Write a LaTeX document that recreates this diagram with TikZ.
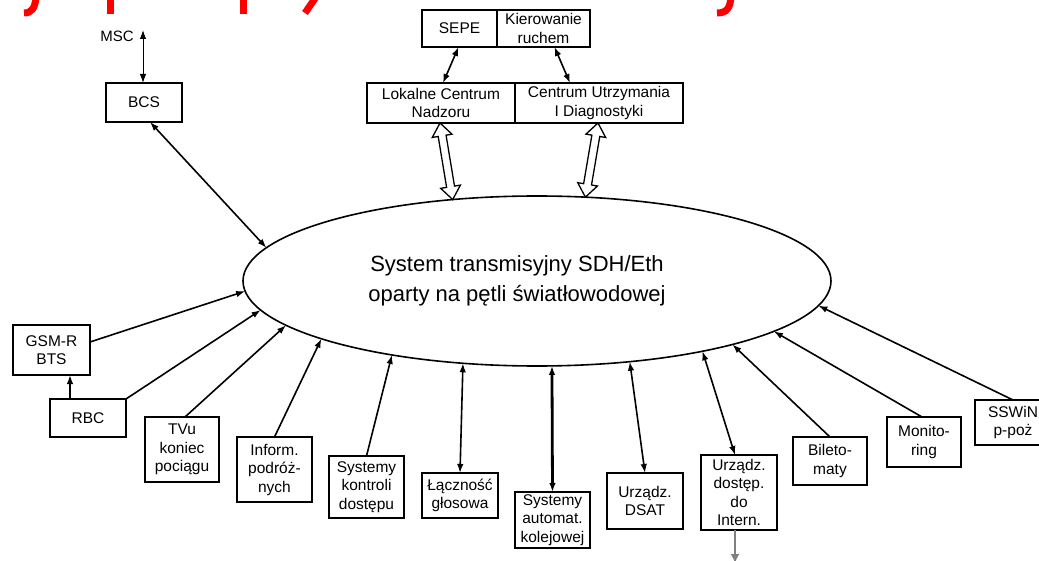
\documentclass[tikz,border=0pt]{standalone}
\usepackage{fontspec}
\setmainfont{Liberation Sans}
\usetikzlibrary{arrows.meta,calc,shapes.geometric}
\newcommand{\hollowdarrow}[2]{%
  \draw[line width=1.3pt, fill=white] let \p1=($(#2)-(#1)$), \n1={atan2(\y1,\x1)}, \n2={veclen(\x1,\y1)} in
    {[shift={(#1)}, rotate=\n1] (0,0) -- (13,10) -- (13,4) -- (\n2-13,4) -- (\n2-13,10) -- (\n2,0) -- (\n2-13,-10) -- (\n2-13,-4) -- (13,-4) -- (13,-10) -- cycle};}
\begin{document}
\begin{tikzpicture}[x=1pt,y=-1pt,
  box/.style={draw, line width=2pt, inner sep=0pt, outer sep=0pt, align=center,
    font=\fontsize{15.5}{18.5}\selectfont},
  conn/.style={line width=1.6pt},
  >={Latex[length=9pt,width=6.5pt]}]
\clip (0,0) rectangle (1039,561);
\fill[white] (0,0) rectangle (1039,561);

% cropped red title fragments
\begin{scope}[red, line width=7pt]
\draw (36,-3) .. controls (35,8) and (32,13) .. (24,13);
\draw (110,-3) -- (110,14);
\draw (243,-3) -- (243,14);
\draw (316,-3) -- (305,13);
\draw (731,-3) .. controls (730,8) and (727,13) .. (717,13);
\end{scope}

% central ellipse
\node[draw, ellipse, line width=1.6pt, minimum width=588pt, minimum height=170pt, inner sep=0pt, outer sep=0pt] (sys) at (537,281) {};
\node[align=center, font=\fontsize{22}{30}\selectfont] (systxt) at (517,281) {System transmisyjny SDH/Eth\\oparty na pętli światłowodowej};

% top boxes
\node[box, minimum width=75pt, minimum height=37pt] (sepe) at (459.5,28.5) {SEPE};
\node[box, minimum width=93pt, minimum height=37pt] (kier) at (543.5,28.5) {Kierowanie\\ruchem};
\node[box, minimum width=148pt, minimum height=40pt] (lcn) at (441,103) {Lokalne Centrum\\Nadzoru};
\node[box, minimum width=168pt, minimum height=40pt] (cud) at (599,103) {Centrum Utrzymania\\I Diagnostyki};

% BCS and MSC
\node[box, minimum width=76pt, minimum height=39pt] (bcs) at (144,102.5) {BCS};
\node[font=\fontsize{15}{18}\selectfont, anchor=east, inner sep=0pt] (msc) at (134,36) {MSC};
\coordinate (mscA) at (143,30);

% left / bottom boxes
\node[box, minimum width=77pt, minimum height=50pt] (gsm) at (51.5,350) {GSM-R\\BTS};
\node[box, minimum width=76pt, minimum height=38pt] (rbc) at (88,418) {RBC};
\node[box, minimum width=74pt, minimum height=65pt] (tvu) at (182,449.5) {TVu\\koniec\\pociągu};
\node[box, minimum width=75pt, minimum height=65pt] (inf) at (274.5,469.5) {Inform.\\podróż-\\nych};
\node[box, minimum width=75pt, minimum height=62pt] (skd) at (366.5,487) {Systemy\\kontroli\\dostępu};
\node[box, minimum width=76pt, minimum height=45pt] (lg) at (460,495.5) {Łączność\\głosowa};
\node[box, minimum width=75pt, minimum height=56pt] (sak) at (552.5,520) {Systemy\\automat.\\kolejowej};
\node[box, minimum width=76pt, minimum height=56pt] (dsat) at (645,501) {Urządz.\\DSAT};
\node[box, minimum width=76pt, minimum height=75pt] (udi) at (739,492.5) {Urządz.\\dostęp.\\do\\Intern.};
\node[box, minimum width=74pt, minimum height=48pt] (bil) at (830,461) {Bileto-\\maty};
\node[box, minimum width=74pt, minimum height=50pt] (mon) at (924,442) {Monito-\\ring};
\node[box, minimum width=76pt, minimum height=45pt] (ssw) at (1013,422.5) {SSWiN\\p-poż};

% connectors
\draw[line width=1pt, <->] (mscA) -- (mscA |- bcs.north);
\draw[conn, <->] ([xshift=6pt]bcs.south) -- (sys.173.7);
\draw[conn, <->] ([xshift=-1pt]sepe.south) -- ([xshift=2pt]lcn.north);
\draw[conn, <->] ([xshift=11pt]kier.south) -- ([xshift=-29pt]cud.north);

\coordinate (h1a) at ([xshift=-1pt]lcn.south);
\coordinate (h1b) at (sys.136);
\coordinate (h2a) at ([xshift=-1pt]cud.south);
\coordinate (h2b) at (sys.60.3);
\hollowdarrow{h1a}{h1b}
\hollowdarrow{h2a}{h2b}

\draw[conn, ->] ([yshift=8pt]gsm.east) -- (sys.182.4);
\coordinate (rbcT) at ([xshift=-18pt]rbc.north);
\draw[conn, ->] (rbcT) -- (rbcT |- gsm.south);
\draw[conn, ->] (rbc.north east) -- (sys.186.2);
\draw[conn, ->] ([xshift=3pt]tvu.north) -- (sys.190.5);
\draw[conn, ->] (inf.north) -- (sys.195.6);
\draw[conn, ->] (skd.north) -- (sys.207.5);
\draw[conn, <->] (sys.228.7) -- (lg.north);
\draw[conn, line width=2.8pt, <->] (sys.280) -- (sak.north);
\draw[conn, <->] (sys.319.9) -- (dsat.north);
\draw[conn, <->] (sys.337.1) -- ([xshift=-4pt]udi.north);
\coordinate (udiOut) at ([xshift=-4pt,yshift=-33pt]udi.south);
\draw[gray, line width=1.5pt, -{Latex[length=9pt,width=9pt]}] ([xshift=-4pt]udi.south) -- (udiOut);
\draw[conn, ->] (bil.north) -- (sys.342.9);
\draw[conn, ->] ([xshift=-2pt]mon.north) -- (sys.348.8);
\draw[conn, ->] (ssw.north) -- (sys.355.4);
\end{tikzpicture}
\end{document}
